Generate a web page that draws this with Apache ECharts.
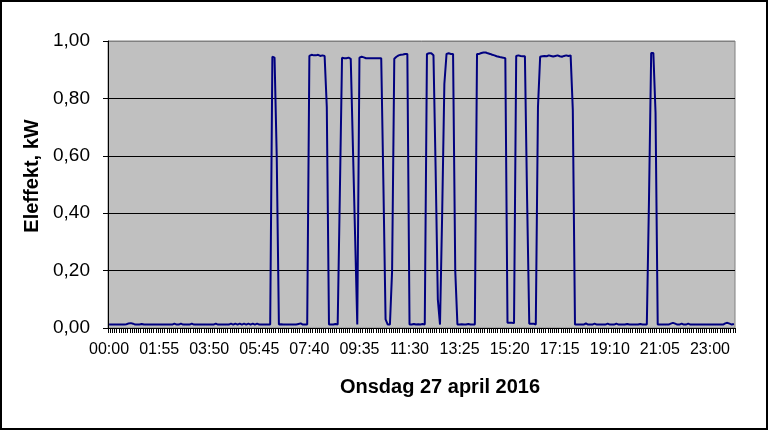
<!DOCTYPE html>
<html>
<head>
<meta charset="utf-8">
<script src="https://cdn.jsdelivr.net/npm/echarts@6/dist/echarts.min.js"></script>
<style>
html,body{margin:0;padding:0;background:#fff;}
#c{width:768px;height:430px;}
</style>
</head>
<body>
<div id="c"></div>
<script>
// Electricity power (kW), 5-minute readings, Wednesday 27 April 2016
const kw0000 = [ // 00:00 - 03:55
  0.012,0.012,0.012,0.012,0.012,0.012,0.012,0.012,0.013,0.016,0.017,0.015,
  0.012,0.012,0.012,0.014,0.012,0.012,0.012,0.012,0.012,0.012,0.012,0.012,
  0.012,0.012,0.012,0.012,0.012,0.012,0.015,0.012,0.012,0.015,0.012,0.012,
  0.012,0.012,0.015,0.012,0.012,0.012,0.012,0.012,0.012,0.012,0.012,0.012
];
const kw0400 = [ // 04:00 - 07:55
  0.012,0.015,0.012,0.012,0.012,0.012,0.012,0.012,0.015,0.012,0.015,0.012,
  0.015,0.012,0.015,0.012,0.015,0.012,0.015,0.012,0.015,0.012,0.012,0.012,
  0.012,0.012,0.012,0.945,0.942,0.600,0.012,0.013,0.012,0.012,0.012,0.012,
  0.012,0.012,0.012,0.014,0.016,0.012,0.012,0.012,0.948,0.952,0.950,0.950
];
const kw0800 = [ // 08:00 - 11:55
  0.952,0.948,0.950,0.948,0.770,0.012,0.012,0.012,0.014,0.012,0.470,0.942,
  0.940,0.940,0.942,0.938,0.630,0.320,0.012,0.942,0.945,0.943,0.940,0.940,
  0.940,0.940,0.940,0.940,0.940,0.940,0.500,0.030,0.012,0.012,0.200,0.938,
  0.945,0.950,0.952,0.953,0.955,0.955,0.012,0.012,0.014,0.012,0.013,0.012
];
const kw1200 = [ // 12:00 - 15:55
  0.014,0.012,0.955,0.957,0.957,0.950,0.550,0.100,0.012,0.400,0.850,0.955,
  0.957,0.955,0.955,0.200,0.012,0.012,0.013,0.012,0.012,0.014,0.012,0.012,
  0.012,0.955,0.955,0.958,0.960,0.960,0.957,0.955,0.952,0.950,0.947,0.945,
  0.943,0.942,0.940,0.018,0.018,0.018,0.017,0.948,0.950,0.948,0.947,0.947
];
const kw1600 = [ // 16:00 - 19:55
  0.450,0.015,0.015,0.015,0.012,0.770,0.945,0.947,0.948,0.947,0.950,0.948,
  0.946,0.948,0.950,0.947,0.945,0.948,0.950,0.948,0.950,0.760,0.012,0.012,
  0.012,0.012,0.012,0.016,0.012,0.012,0.012,0.015,0.012,0.012,0.012,0.012,
  0.012,0.015,0.012,0.012,0.012,0.015,0.012,0.012,0.012,0.012,0.014,0.012
];
const kw2000 = [ // 20:00 - 23:55
  0.012,0.012,0.012,0.012,0.014,0.012,0.012,0.012,0.450,0.958,0.958,0.750,
  0.012,0.012,0.012,0.012,0.012,0.012,0.015,0.018,0.015,0.012,0.012,0.015,
  0.012,0.012,0.015,0.012,0.012,0.012,0.012,0.012,0.012,0.012,0.012,0.012,
  0.012,0.012,0.012,0.012,0.012,0.012,0.012,0.016,0.018,0.015,0.012,0.014
];
const yTickValues = [0, 0.2, 0.4, 0.6, 0.8, 1.0];
const xTitle = 'Onsdag 27 april 2016';
const yTitle = 'Eleffekt, kW';

const kw = [].concat(kw0000, kw0400, kw0800, kw1200, kw1600, kw2000);
const times = [];
for (let h = 0; h < 24; h++) {
  for (let m = 0; m < 60; m += 5) {
    times.push(String(h).padStart(2, '0') + ':' + String(m).padStart(2, '0'));
  }
}

const FONT = 'Liberation Sans, Arial, sans-serif';
const chart = echarts.init(document.getElementById('c'), null, {renderer: 'canvas'});
chart.setOption({
  animation: false,
  backgroundColor: '#ffffff',
  title: {
    text: xTitle,
    left: 435,
    top: 372,
    textAlign: 'center',
    textStyle: {fontFamily: FONT, fontWeight: 'bold', fontSize: 20, color: '#000'}
  },
  grid: {
    left: 108, top: 41, width: 627, height: 287,
    show: true, backgroundColor: '#C0C0C0', borderColor: '#808080', borderWidth: 1
  },
  xAxis: {
    type: 'category',
    data: times,
    boundaryGap: true,
    axisLine: {lineStyle: {color: '#000', width: 1}},
    axisTick: {show: true, interval: 0, alignWithLabel: false, length: 5, lineStyle: {color: '#000', width: 1}},
    axisLabel: {interval: 22, fontSize: 16, fontFamily: FONT, color: '#000', margin: 14},
    splitLine: {show: false}
  },
  yAxis: {
    type: 'value',
    min: yTickValues[0],
    max: yTickValues[yTickValues.length - 1],
    interval: 0.2,
    axisLine: {show: true, lineStyle: {color: '#000', width: 1}},
    axisTick: {show: true, length: 5, lineStyle: {color: '#000'}},
    axisLabel: {
      fontSize: 19, fontFamily: FONT, color: '#000', margin: 18,
      formatter: v => v.toFixed(2).replace('.', ',')
    },
    splitLine: {show: true, lineStyle: {color: ['#000', '#000', '#000', '#000', '#000', '#808080'], width: 1}}
  },
  series: [{
    type: 'line',
    data: kw,
    symbol: 'none',
    smooth: false,
    lineStyle: {color: '#000080', width: 2},
    itemStyle: {color: '#000080'}
  }],
  graphic: [
    {
      type: 'text',
      x: 32, y: 176,
      rotation: Math.PI / 2,
      style: {
        text: yTitle,
        fontFamily: FONT, fontWeight: 'bold', fontSize: 20,
        fill: '#000',
        align: 'center', verticalAlign: 'middle',
        textAlign: 'center', textVerticalAlign: 'middle'
      }
    },
    {
      type: 'rect',
      silent: true,
      z: 100,
      shape: {x: 1, y: 1, width: 766, height: 428},
      style: {fill: 'transparent', stroke: '#000', lineWidth: 2}
    }
  ]
});
</script>
</body>
</html>
